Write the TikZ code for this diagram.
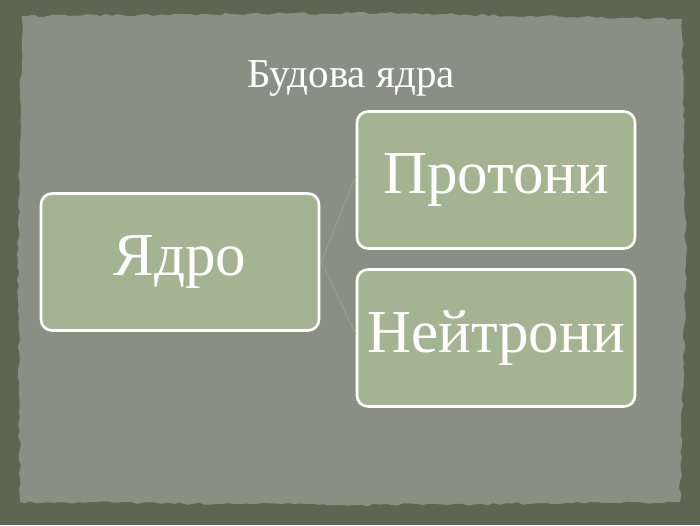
\documentclass[tikz,border=0pt]{standalone}
\usepackage{fontspec}
\setmainfont{Liberation Serif}
\usetikzlibrary{decorations.pathmorphing}
\definecolor{outerbg}{HTML}{5E6552}
\definecolor{innerbg}{HTML}{8B8F83}
\definecolor{boxfill}{HTML}{A4B493}
\definecolor{linkc}{HTML}{97A287}
\tikzset{
  cbox/.style={draw=white, line width=2.6pt, fill=boxfill, rounded corners=11pt,
    minimum width=278pt, minimum height=137pt, inner sep=0pt, text=white,
    font=\fontsize{61}{70}\selectfont},
  link/.style={draw=linkc, line width=1pt}
}
\begin{document}
\begin{tikzpicture}[x=1pt,y=-1pt]
\useasboundingbox (0,0) rectangle (700,525);
\fill[outerbg] (0,0) rectangle (700,525);
\fill[innerbg, decorate, decoration={random steps, segment length=6pt, amplitude=1.3pt}]
  (22,16) -- (380,13) -- (682,19) -- (686,260) -- (680,502) -- (360,505) -- (20,502) -- (18,260) -- cycle;
\node[text=white, font=\fontsize{41}{48}\selectfont] (title) at (351,78) {Будова ядра};
\node[cbox] (core) at (180,262) {Ядро};
\node[cbox] (prot) at (496,180) {Протони};
\node[cbox] (neut) at (496,338) {Нейтрони};
\coordinate (j) at ([xshift=1pt]core.east);
\draw[link] (j) -- ([yshift=4pt]prot.west);
\draw[link] (j) -- ([yshift=4pt]neut.west);
\end{tikzpicture}
\end{document}
